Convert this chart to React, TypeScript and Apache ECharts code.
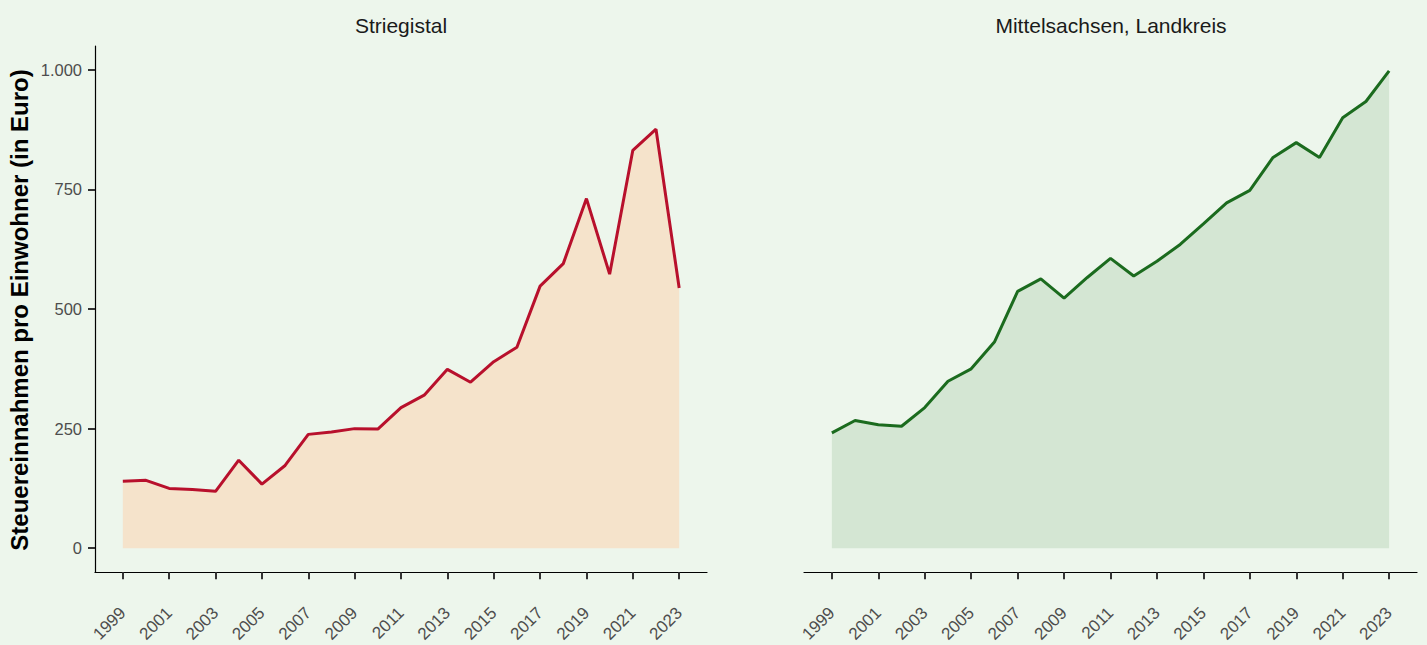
import React, { useEffect, useRef } from "react";
import * as echarts from "echarts";

const years = [1999,2000,2001,2002,2003,2004,2005,2006,2007,2008,2009,2010,2011,2012,2013,2014,2015,2016,2017,2018,2019,2020,2021,2022,2023];
const striegistal = [140,142,125,123,119,184,134,173,238,243,250,249,294,320,374,347,390,420,548,595,731,573,832,876,544];
const mittelsachsen = [241,267,258,255,294,349,375,431,537,563,523,566,606,569,600,635,678,722,748,817,848,817,900,934,998];
const xTicks = [1999,2001,2003,2005,2007,2009,2011,2013,2015,2017,2019,2021,2023];
const yTicks = [0,250,500,750,1000];
const panelTitles = ["Striegistal", "Mittelsachsen, Landkreis"];
const yTitle = "Steuereinnahmen pro Einwohner (in Euro)";

const fmtDe = (v: number) => String(v).replace(/\B(?=(\d{3})+(?!\d))/g, ".");

export default function App() {
  const ref = useRef<HTMLDivElement>(null);
  useEffect(() => {
    const chart = echarts.init(ref.current!, null, { renderer: "svg" });
    const font = "Liberation Sans, Arial, sans-serif";
    const mkX = (gi: number) => ({
      type: "value",
      gridIndex: gi,
      min: 1997.8,
      max: 2024.2,
      axisLine: { show: true, onZero: false, lineStyle: { color: "#000", width: 1.2 } },
      axisTick: { show: true, customValues: xTicks, length: 7, lineStyle: { color: "#333", width: 2 } },
      axisLabel: {
        customValues: xTicks,
        rotate: 45,
        margin: 38,
        color: "#4d4d4d",
        fontSize: 17,
        fontFamily: font,
        formatter: (v: number) => String(v),
      },
      splitLine: { show: false },
    });
    const mkY = (gi: number, show: boolean) => ({
      type: "value",
      gridIndex: gi,
      min: -50,
      max: 1050,
      show,
      axisLine: { show, onZero: false, lineStyle: { color: "#000", width: 1.2 } },
      axisTick: { show, customValues: yTicks, length: 7, lineStyle: { color: "#333", width: 2 } },
      axisLabel: {
        show,
        customValues: yTicks,
        margin: 13,
        color: "#4d4d4d",
        fontSize: 16.5,
        fontFamily: font,
        formatter: (v: number) => fmtDe(v),
      },
      splitLine: { show: false },
    });
    chart.setOption({
      animation: false,
      backgroundColor: "#edf6ec",
      grid: [
        { left: 95, right: 720, top: 46, bottom: 72 },
        { left: 804, right: 10, top: 46, bottom: 72 },
      ],
      xAxis: [mkX(0), mkX(1)],
      yAxis: [mkY(0, true), mkY(1, false)],
      graphic: [
        { type: "text", x: 401, y: 25, style: { text: panelTitles[0], textAlign: "center", textVerticalAlign: "middle", fontSize: 21, fontFamily: font, fill: "#1a1a1a" } },
        { type: "text", x: 1111, y: 25, style: { text: panelTitles[1], textAlign: "center", textVerticalAlign: "middle", fontSize: 21, fontFamily: font, fill: "#1a1a1a" } },
        { type: "text", x: 19, y: 310, rotation: Math.PI / 2, style: { text: yTitle, textAlign: "center", textVerticalAlign: "middle", fontSize: 24, fontWeight: "bold", fontFamily: font, fill: "#000" } },
      ],
      series: [
        {
          type: "line",
          xAxisIndex: 0,
          yAxisIndex: 0,
          data: years.map((y, i) => [y, striegistal[i]]),
          showSymbol: false,
          lineStyle: { color: "#b8102c", width: 3 },
          areaStyle: { color: "#f5e3cb", opacity: 1, origin: 0 },
        },
        {
          type: "line",
          xAxisIndex: 1,
          yAxisIndex: 1,
          data: years.map((y, i) => [y, mittelsachsen[i]]),
          showSymbol: false,
          lineStyle: { color: "#1b6b1e", width: 3 },
          areaStyle: { color: "#d4e6d3", opacity: 1, origin: 0 },
        },
      ],
    });
    return () => chart.dispose();
  }, []);
  return <div ref={ref} style={{ position: "fixed", left: 0, top: 0, width: 1427, height: 645 }} />;
}
